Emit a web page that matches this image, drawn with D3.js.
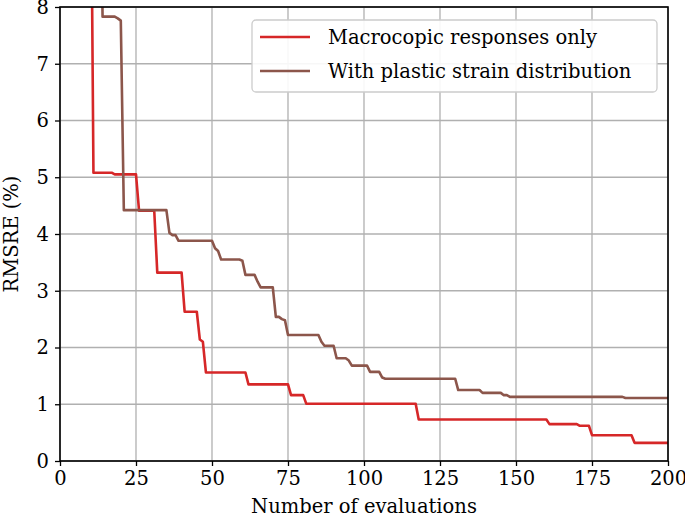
<!DOCTYPE html>
<html>
<head>
<meta charset="utf-8">
<script src="https://cdn.jsdelivr.net/npm/d3@7"></script>
<style>
  body { margin: 0; background: #fff; }
  text { font-family: "DejaVu Serif", "Liberation Serif", serif; fill: #000; }
</style>
</head>
<body>
<svg id="chart"></svg>
<script>
// step breakpoints: evaluation where a new best value appears, and that value
var macroEvals  = [1, 11, 18, 26, 32, 41, 46, 47, 48, 62, 76, 81, 118, 161, 171, 175, 189];
var macroValues = [12, 5.08, 5.05, 4.41, 3.32, 2.63, 2.14, 2.10, 1.56, 1.35, 1.16, 1.01, 0.73, 0.65, 0.62, 0.455, 0.32];

var plasticEvals  = [1, 14, 19, 20, 21, 36, 37, 39, 51, 52, 53, 60, 61, 65, 66, 71, 73, 74, 75, 86, 87, 91, 95, 96, 102, 106, 107, 131, 139, 146, 148, 186];
var plasticValues = [12, 7.83, 7.80, 7.76, 4.42, 4.02, 3.98, 3.88, 3.75, 3.70, 3.55, 3.53, 3.28, 3.16, 3.06, 2.54, 2.50, 2.48, 2.22, 2.10, 2.03, 1.81, 1.77, 1.68, 1.57, 1.47, 1.45, 1.25, 1.20, 1.16, 1.13, 1.11];

var xTicks = [0, 25, 50, 75, 100, 125, 150, 175, 200];
var yTicks = [0, 1, 2, 3, 4, 5, 6, 7, 8];
var seriesNames = ["Macrocopic responses only", "With plastic strain distribution"];
var seriesColors = ["#d62728", "#8c564b"];
var lastEval = 200;

var width = 685, height = 517;
var margin = {top: 7, right: 17, bottom: 56, left: 60};
var w = width - margin.left - margin.right;
var h = height - margin.top - margin.bottom;
var fontSize = "19.5px";

var svg = d3.select("#chart").attr("width", width).attr("height", height);
var g = svg.append("g").attr("transform", "translate(" + margin.left + "," + margin.top + ")");

var x = d3.scaleLinear().domain([0, 200]).range([0, w]);
var y = d3.scaleLinear().domain([0, 8]).range([h, 0]);

// grid
g.selectAll(".gx").data(xTicks).enter().append("line")
    .attr("x1", function (d) { return x(d); }).attr("x2", function (d) { return x(d); })
    .attr("y1", 0).attr("y2", h)
    .attr("stroke", "#b0b0b0").attr("stroke-width", 1.3);
g.selectAll(".gy").data(yTicks).enter().append("line")
    .attr("y1", function (d) { return y(d); }).attr("y2", function (d) { return y(d); })
    .attr("x1", 0).attr("x2", w)
    .attr("stroke", "#b0b0b0").attr("stroke-width", 1.3);

svg.append("clipPath").attr("id", "clip").append("rect").attr("width", w).attr("height", h);

function stepPoints(evals, values) {
    var pts = [[evals[0], values[0]]];
    for (var i = 1; i < evals.length; i++) {
        pts.push([evals[i] - 1, values[i - 1]]);
        pts.push([evals[i], values[i]]);
    }
    pts.push([lastEval, values[values.length - 1]]);
    return pts;
}

var line = d3.line()
    .x(function (d) { return x(d[0]); })
    .y(function (d) { return y(d[1]); });

var series = [stepPoints(macroEvals, macroValues), stepPoints(plasticEvals, plasticValues)];

g.append("g").attr("clip-path", "url(#clip)")
    .selectAll("path").data(series).enter().append("path")
    .attr("d", line)
    .attr("fill", "none")
    .attr("stroke", function (d, i) { return seriesColors[i]; })
    .attr("stroke-width", 2.6)
    .attr("stroke-linejoin", "round");

// axes
var xAxis = g.append("g").attr("transform", "translate(0," + h + ")")
    .call(d3.axisBottom(x).tickValues(xTicks).tickSize(5).tickPadding(5));
var yAxis = g.append("g")
    .call(d3.axisLeft(y).tickValues(yTicks).tickSize(5).tickPadding(6));
[xAxis, yAxis].forEach(function (a) {
    a.select(".domain").remove();
    a.selectAll("line").attr("stroke", "#000").attr("stroke-width", 1.3);
    a.selectAll("text").style("font-family", "DejaVu Serif").style("font-size", fontSize);
});

// frame
g.append("rect").attr("width", w).attr("height", h)
    .attr("fill", "none").attr("stroke", "#000").attr("stroke-width", 1.6);

// axis titles
svg.append("text")
    .attr("x", margin.left + w / 2).attr("y", 513)
    .attr("text-anchor", "middle").style("font-size", fontSize)
    .text("Number of evaluations");
svg.append("text")
    .attr("transform", "translate(18," + (margin.top + h / 2) + ") rotate(-90)")
    .attr("text-anchor", "middle").style("font-size", fontSize)
    .text("RMSRE (%)");

// legend
var legend = svg.append("g");
legend.append("rect")
    .attr("x", 252).attr("y", 20).attr("width", 405).attr("height", 72)
    .attr("rx", 4).attr("fill", "#fff").attr("fill-opacity", 0.9)
    .attr("stroke", "#cccccc").attr("stroke-width", 1.3);
seriesNames.forEach(function (name, i) {
    var cy = 37 + i * 34;
    legend.append("line")
        .attr("x1", 260).attr("x2", 310).attr("y1", cy).attr("y2", cy)
        .attr("stroke", seriesColors[i]).attr("stroke-width", 2.6);
    legend.append("text")
        .attr("x", 328).attr("y", cy).attr("dy", "0.35em")
        .style("font-size", fontSize)
        .text(name);
});
</script>
</body>
</html>
